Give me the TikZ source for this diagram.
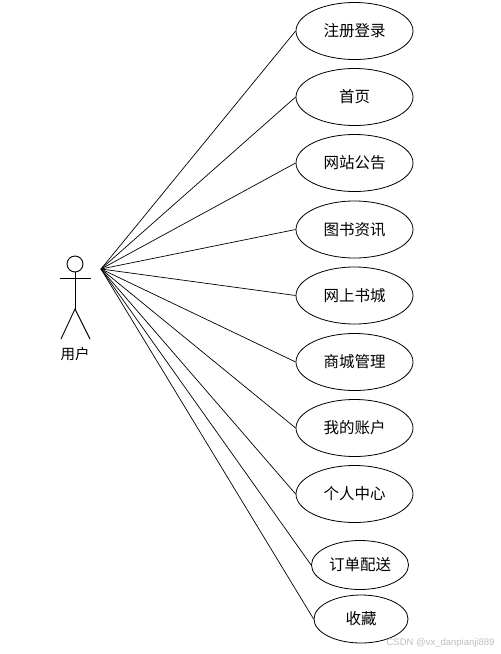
\documentclass[tikz,border=0pt]{standalone}
\usepackage{fontspec}
\newfontfamily\cjk{Noto Sans CJK SC}
\newfontfamily\wmfont{Liberation Sans}
\usetikzlibrary{shapes.geometric}
\tikzset{
  usecase/.style={ellipse, draw=black, line width=0.8pt, inner sep=0pt,
    minimum width=117pt, minimum height=57pt, font=\cjk\fontsize{15.5pt}{17pt}\selectfont},
  smallcase/.style={usecase, minimum width=97pt, minimum height=49pt},
  assoc/.style={draw=black, line width=0.7pt},
  stick/.style={draw=black, line width=0.9pt}
}
\begin{document}
\begin{tikzpicture}[x=1pt,y=-1pt]
\useasboundingbox[fill=white] (0,0) rectangle (501,654);
% actor
\draw[stick] (75,264) circle (8);
\draw[stick] (75,272) -- (75,309);
\draw[stick] (60,278) -- (91,278);
\draw[stick] (61,339) -- (75,309) -- (90,339);
\node[font=\cjk\fontsize{14.5pt}{16pt}\selectfont] (user) at (75,354) {用户};
\coordinate (u) at (101,269);
% use cases
\node[usecase] (c1) at (354.5,31) {注册登录};
\node[usecase] (c2) at (354.5,97) {首页};
\node[usecase] (c3) at (354.5,163) {网站公告};
\node[usecase] (c4) at (354.5,229.5) {图书资讯};
\node[usecase] (c5) at (354.5,295.5) {网上书城};
\node[usecase] (c6) at (354.5,362) {商城管理};
\node[usecase] (c7) at (354.5,428) {我的账户};
\node[usecase] (c8) at (354.5,494) {个人中心};
\node[smallcase] (c9) at (360,565) {订单配送};
\node[smallcase, minimum width=94pt, minimum height=48pt] (c10) at (361,619) {收藏};
% associations
\foreach \n in {c1,c2,c3,c4,c5,c6,c7,c8,c9,c10}
  \draw[assoc] (u) -- (\n.west);
% watermark
\node[font=\wmfont\fontsize{9.5pt}{11pt}\selectfont, text=black!25, anchor=east] (wm) at (498,643) {CSDN @vx\_danpianji889};
\end{tikzpicture}
\end{document}
